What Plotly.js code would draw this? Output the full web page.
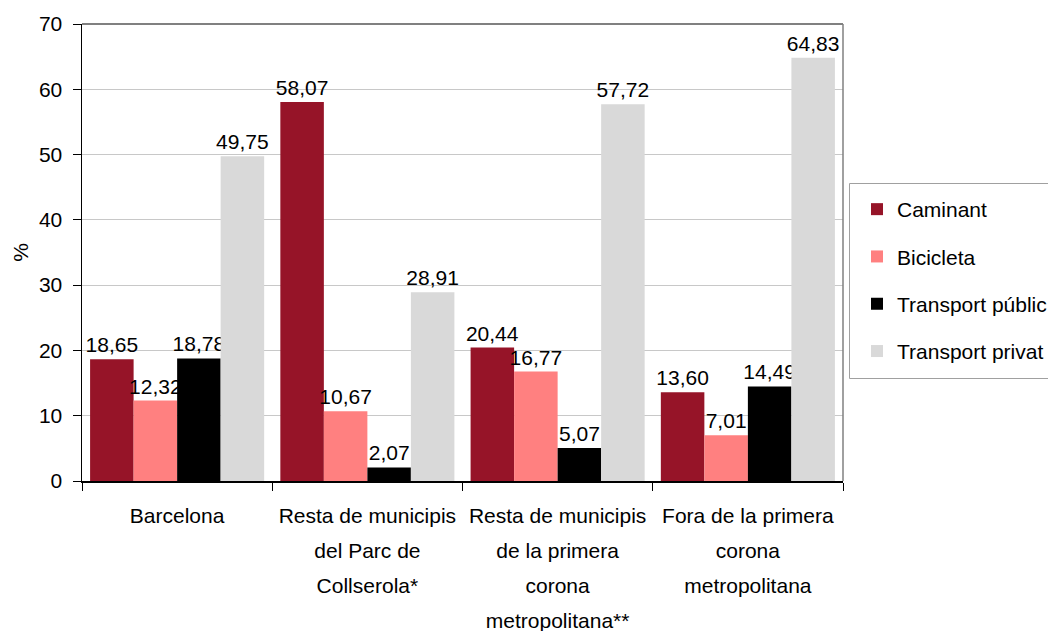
<!DOCTYPE html>
<html><head><meta charset="utf-8">
<script src="https://cdn.plot.ly/plotly-3.0.1.min.js"></script>
<style>body{margin:0;background:#fff}#c{width:1048px;height:631px}</style>
</head><body><div id="c"></div>
<script>
const categories = ["Barcelona", "Resta de municipis<br>del Parc de<br>Collserola*", "Resta de municipis<br>de la primera<br>corona<br>metropolitana**", "Fora de la primera<br>corona<br>metropolitana"];
const seriesNames = ["Caminant", "Bicicleta", "Transport públic", "Transport privat"];
const caminant = [18.65, 58.07, 20.44, 13.60];
const bicicleta = [12.32, 10.67, 16.77, 7.01];
const publicT = [18.78, 2.07, 5.07, 14.49];
const privat = [49.75, 28.91, 57.72, 64.83];
const colors = ["#961428", "#FF8080", "#000000", "#D9D9D9"];
const yTicks = [0, 10, 20, 30, 40, 50, 60, 70];

const FONT = "'Liberation Sans', Arial, sans-serif";
const FS = 21;
const values = [caminant, bicicleta, publicT, privat];
const traces = values.map((v, i) => ({
  type: 'bar', x: categories, y: v, name: seriesNames[i],
  marker: {color: colors[i], line: {width: 0}},
  text: v.map(n => n.toFixed(2).replace('.', ',')),
  texttemplate: '%{text}', textposition: 'outside', cliponaxis: false,
  constraintext: 'none',
  textfont: {family: FONT, size: FS, color: '#000'},
  legendgroup: 'g' + i, hoverinfo: 'skip'
}));
// category tick labels: keep the visible size at FS but use a taller line pitch
const tickText = categories.map(c => c.split('<br>').map(l => '<span style="font-size:' + FS + 'px">' + l + '</span>').join('<br>'));

const L = 82, R = 843, T = 24, B = 481;
const px2x = p => (p - L) / (R - L);
const px2y = p => (B - p) / (B - T);

const layout = {
  width: 1048, height: 631,
  margin: {l: L, r: 1048 - R, t: T, b: 631 - B, autoexpand: false},
  paper_bgcolor: '#fff', plot_bgcolor: '#fff',
  font: {family: FONT, size: FS, color: '#000'},
  barmode: 'group', bargap: 0.085, bargroupgap: 0,
  showlegend: true,
  legend: {x: px2x(857), xanchor: 'left', y: px2y(189), yanchor: 'top',
    borderwidth: 0, bgcolor: 'rgba(0,0,0,0)',
    font: {family: FONT, size: FS, color: '#000'}, tracegroupgap: 17,
    traceorder: 'grouped', itemwidth: 30},
  xaxis: {type: 'category', tickson: 'boundaries', ticks: 'outside', ticklen: 8,
    tickangle: 0, automargin: false, tickvals: categories, ticktext: tickText,
    ticklabelstandoff: 8,
    tickcolor: '#000', showline: true, linecolor: '#000', linewidth: 1.5,
    showgrid: false, tickfont: {family: FONT, size: 27}, fixedrange: true},
  yaxis: {range: [0, 70], tickvals: yTicks, ticks: 'outside', ticklen: 8,
    tickcolor: '#000', showline: true, linecolor: '#000', linewidth: 1.5,
    gridcolor: '#c8c8c8', gridwidth: 1, zeroline: false, automargin: false,
    tickfont: {family: FONT, size: FS}, ticklabelstandoff: 6,
    title: {text: '%', font: {family: FONT, size: FS}, standoff: 4}, fixedrange: true},
  shapes: [
    {type: 'line', xref: 'paper', yref: 'paper', x0: 0, x1: 1, y0: 1, y1: 1, line: {color: '#808080', width: 2}},
    {type: 'line', xref: 'paper', yref: 'paper', x0: 1, x1: 1, y0: 0, y1: 1, line: {color: '#808080', width: 1.5}},
    {type: 'rect', xref: 'paper', yref: 'paper', x0: px2x(849.5), x1: px2x(1070), y0: px2y(183.5), y1: px2y(378.5),
      line: {color: '#a0a0a0', width: 1}, fillcolor: 'rgba(0,0,0,0)'}
  ]
};
Plotly.newPlot('c', traces, layout, {displayModeBar: false, staticPlot: true});
</script></body></html>
